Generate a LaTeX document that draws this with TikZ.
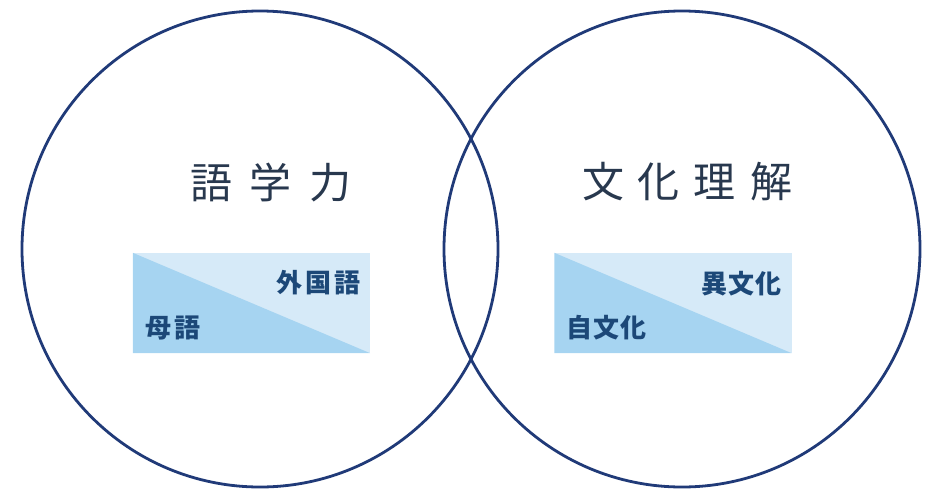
\documentclass[tikz,border=0pt]{standalone}
\usepackage{fontspec}
\newfontfamily\cjk{Noto Sans CJK JP}
\definecolor{ringcol}{RGB}{32,58,120}
\definecolor{titlecol}{RGB}{40,56,78}
\definecolor{labcol}{RGB}{28,72,120}
\definecolor{lowtri}{RGB}{166,212,241}
\definecolor{uptri}{RGB}{214,234,248}
\tikzset{
  ring/.style={circle, draw=ringcol, line width=2.8pt, inner sep=0pt, minimum size=476pt},
  title/.style={font=\cjk\fontsize{42pt}{46pt}\selectfont, text=titlecol, inner sep=0pt},
  lab/.style={font=\cjk\bfseries\fontsize{26pt}{30pt}\selectfont, text=labcol, inner sep=0pt},
  panel/.style={rectangle, fill=uptri, inner sep=0pt, minimum width=237pt, minimum height=100pt}
}
\begin{document}
\begin{tikzpicture}[x=1pt,y=-1pt]
\useasboundingbox (0,0) rectangle (928,490);
% panels
\node[panel] (lbox) at (251.5,303) {};
\fill[lowtri] (lbox.north west) -- (lbox.south east) -- (lbox.south west) -- cycle;
\node[panel] (rbox) at (673,303) {};
\fill[lowtri] (rbox.north west) -- (rbox.south east) -- (rbox.south west) -- cycle;
% circles
\node[ring] (lc) at (260,249) {};
\node[ring] (rc) at (682,249) {};
% titles
\node[title] (lt) at (271,183) {語\hspace{18pt}学\hspace{18pt}力};
\node[title] (rt) at (687,182) {文\hspace{14pt}化\hspace{14pt}理\hspace{14pt}解};
% labels
\node[lab, anchor=east] (lfor) at (361,283) {外\hspace{3pt}国\hspace{3pt}語};
\node[lab, anchor=west] (lmot) at (145,328) {母\hspace{3pt}語};
\node[lab, anchor=east] (rfor) at (782,284) {異\hspace{1pt}文\hspace{1pt}化};
\node[lab, anchor=west] (rown) at (566,328) {自\hspace{1pt}文\hspace{1pt}化};
\end{tikzpicture}
\end{document}
